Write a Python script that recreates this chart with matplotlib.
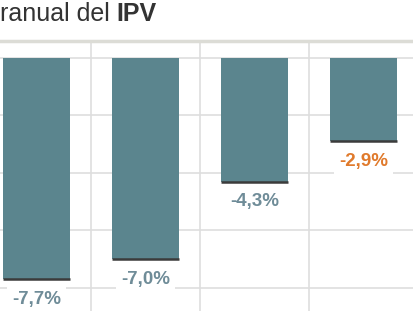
import matplotlib
matplotlib.use('Agg')
import matplotlib.pyplot as plt, numpy as np

# data
values = [-7.7, -7.0, -4.3, -2.9]
labels = ['-7,7%', '-7,0%', '-4,3%', '-2,9%']
label_colors = ['#6f8c98', '#6f8c98', '#6f8c98', '#e07a2c']
grid_vals = [0, -2, -4, -6, -8]

plt.rcParams['font.family'] = ['Liberation Sans', 'DejaVu Sans']

W, H = 414, 311
fig = plt.figure(figsize=(W/100, H/100), dpi=100)
fig.patch.set_facecolor('white')

# axes from the grey rule (y=41px) down to the bottom
ax = fig.add_axes([0, 0, 1, (H-41)/H])
ax.set_xlim(-0.335, 3.463)
ax.set_ylim(-8.8, 0.59)

x = np.arange(len(values))
for g in grid_vals:
    ax.axhline(g, color='#dedede', lw=1.2, zorder=0)
for v in [0.5, 1.5, 2.5]:
    ax.axvline(v, color='#dedede', lw=1.2, zorder=0)

ax.bar(x, values, width=0.62, color='#5b858e', zorder=2)
ax.hlines(values, x-0.31, x+0.31, color='#3b3b3b', lw=1.8, zorder=3)

for xi, v, lab, c in zip(x, values, labels, label_colors):
    ax.annotate(lab, (xi, v), xytext=(0, -20), textcoords='offset pixels',
                ha='center', va='center', fontsize=13.5, fontweight='bold',
                color=c, zorder=4,
                bbox=dict(boxstyle='square,pad=0.25', fc='white', ec='none'))

for s in ['left', 'right', 'bottom']:
    ax.spines[s].set_visible(False)
ax.spines['top'].set_color('#dcdcd6')
ax.spines['top'].set_linewidth(2.5)
ax.set_xticks([])
ax.set_yticks([])

# title (cropped on the left in the original)
t = fig.text(0, 1 - 21/H, 'ranual del ', fontsize=18, color='#333333',
             ha='left', va='baseline')
fig.canvas.draw()
bb = t.get_window_extent()
fig.text(bb.x1/W, 1 - 21/H, 'IPV', fontsize=18, color='#333333',
         fontweight='bold', ha='left', va='baseline')

fig.savefig('out.png', dpi=100)
